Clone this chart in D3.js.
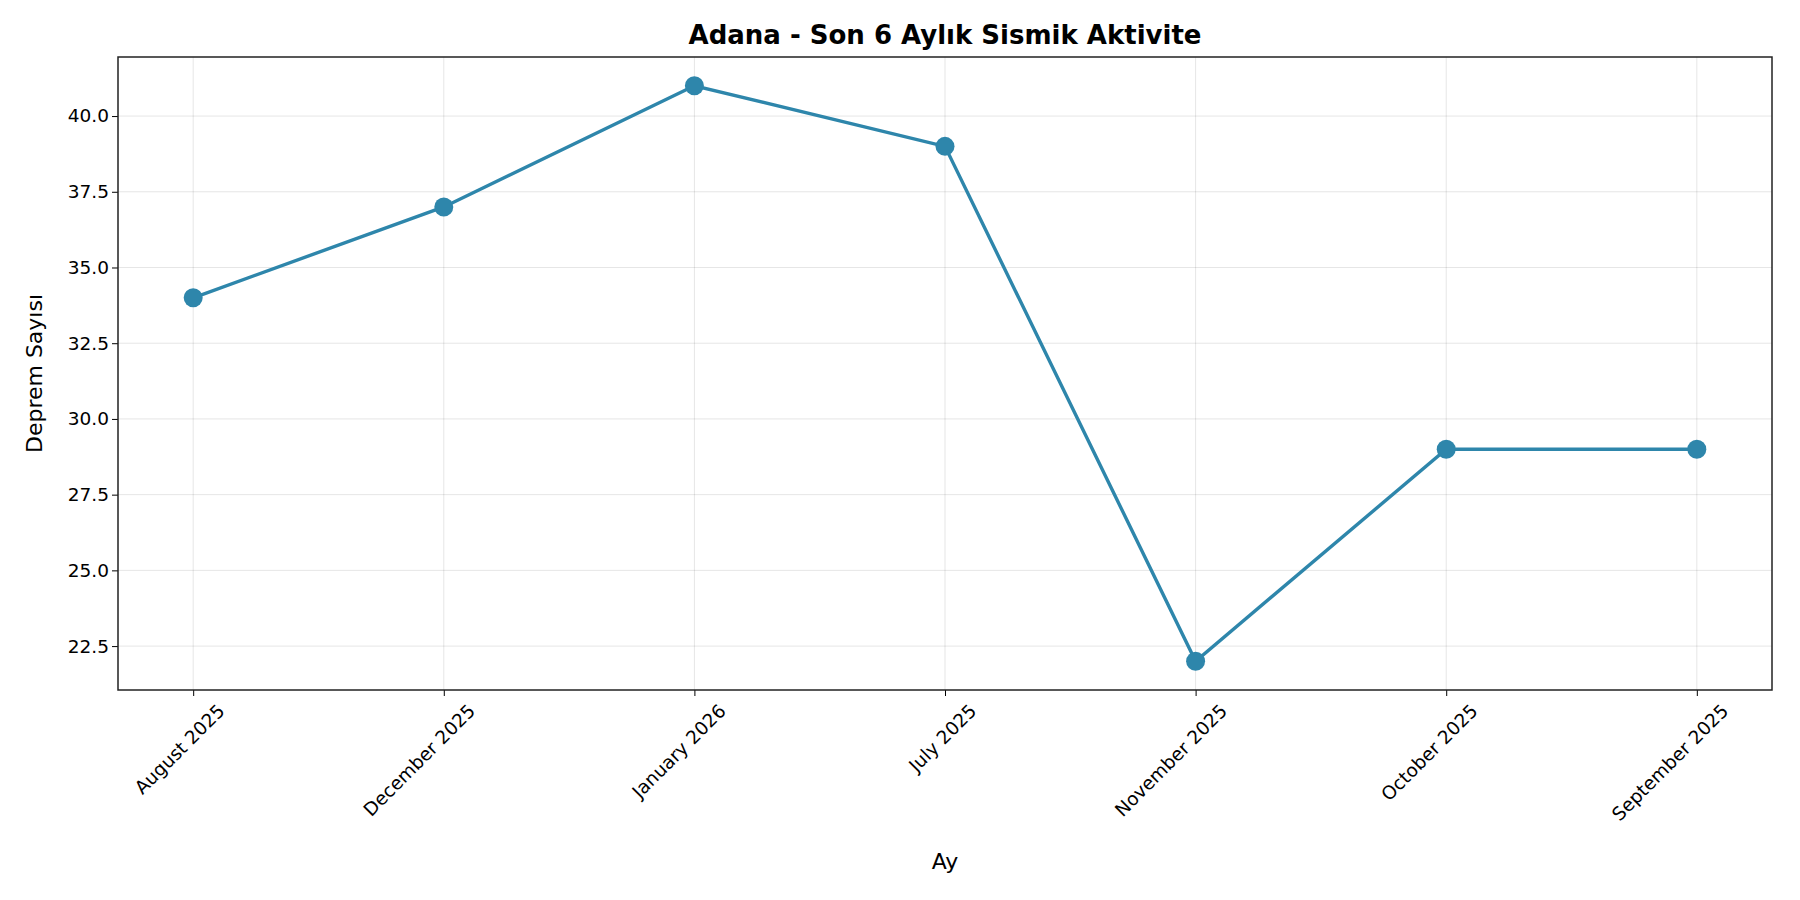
<!DOCTYPE html>
<html>
<head>
<meta charset="utf-8">
<script src="https://cdn.jsdelivr.net/npm/d3@7"></script>
<style>
  body { margin: 0; background: #fff; }
  text { font-family: "DejaVu Sans", sans-serif; }
</style>
</head>
<body>
<svg id="chart" width="1800" height="900"></svg>
<script>
let months = ['August 2025', 'December 2025', 'January 2026', 'July 2025',
    'November 2025', 'October 2025', 'September 2025'];
let counts = [34, 37, 41, 39, 22, 29, 29];
let yTicks = [22.5, 25.0, 27.5, 30.0, 32.5, 35.0, 37.5, 40.0];

let margin = { top: 57, right: 28, bottom: 210, left: 118 },
    width = 1800 - margin.left - margin.right,
    height = 900 - margin.top - margin.bottom;

let svg = d3.select('#chart'),
    g = svg.append('g')
    .attr('transform', 'translate(' + margin.left + ',' + margin.top + ')');

let x = d3.scaleLinear().domain([-0.3, months.length - 1 + 0.3]).range([0, width]);
let y = d3.scaleLinear().domain([21.05, 41.95]).range([height, 0]);

// grid
g.selectAll('.vgrid').data(months).enter().append('line')
    .attr('x1', (d, i) => x(i)).attr('x2', (d, i) => x(i))
    .attr('y1', 0).attr('y2', height)
    .attr('stroke', '#000').attr('stroke-opacity', 0.1).attr('stroke-width', 1);
g.selectAll('.hgrid').data(yTicks).enter().append('line')
    .attr('x1', 0).attr('x2', width)
    .attr('y1', d => y(d)).attr('y2', d => y(d))
    .attr('stroke', '#000').attr('stroke-opacity', 0.1).attr('stroke-width', 1);

// axes
let xAxis = g.append('g')
    .attr('transform', 'translate(0,' + height + ')')
    .call(d3.axisBottom(x).tickValues(d3.range(months.length))
        .tickFormat(i => months[i]).tickSize(6).tickSizeOuter(0));
xAxis.selectAll('text')
    .attr('transform', 'translate(14,4) rotate(-45)')
    .attr('text-anchor', 'end')
    .attr('dx', '0').attr('dy', '0.9em')
    .style('font-size', '18.5px').attr('fill', '#000');

let yAxis = g.append('g')
    .call(d3.axisLeft(y).tickValues(yTicks).tickFormat(d3.format('.1f'))
        .tickSize(6).tickSizeOuter(0));
yAxis.selectAll('text').style('font-size', '18.5px').attr('fill', '#000');
svg.selectAll('.domain').remove();

g.append('rect').attr('width', width).attr('height', height)
    .attr('fill', 'none').attr('stroke', '#222').attr('stroke-width', 1.5);

// line + points
let line = d3.line().x((d, i) => x(i)).y(d => y(d));
g.append('path').datum(counts)
    .attr('d', line).attr('fill', 'none')
    .attr('stroke', '#2E86AB').attr('stroke-width', 3.4);
g.selectAll('.dot').data(counts).enter().append('circle')
    .attr('cx', (d, i) => x(i)).attr('cy', d => y(d)).attr('r', 9.5)
    .attr('fill', '#2E86AB');

// labels
svg.append('text').attr('x', margin.left + width / 2).attr('y', 44)
    .attr('text-anchor', 'middle').style('font-size', '26px').style('font-weight', 'bold')
    .text('Adana - Son 6 Aylık Sismik Aktivite');
svg.append('text').attr('x', margin.left + width / 2).attr('y', 869)
    .attr('text-anchor', 'middle').style('font-size', '22px').text('Ay');
svg.append('text')
    .attr('transform', 'translate(42,' + (margin.top + height / 2) + ') rotate(-90)')
    .attr('text-anchor', 'middle').style('font-size', '22px').text('Deprem Sayısı');
</script>
</body>
</html>
